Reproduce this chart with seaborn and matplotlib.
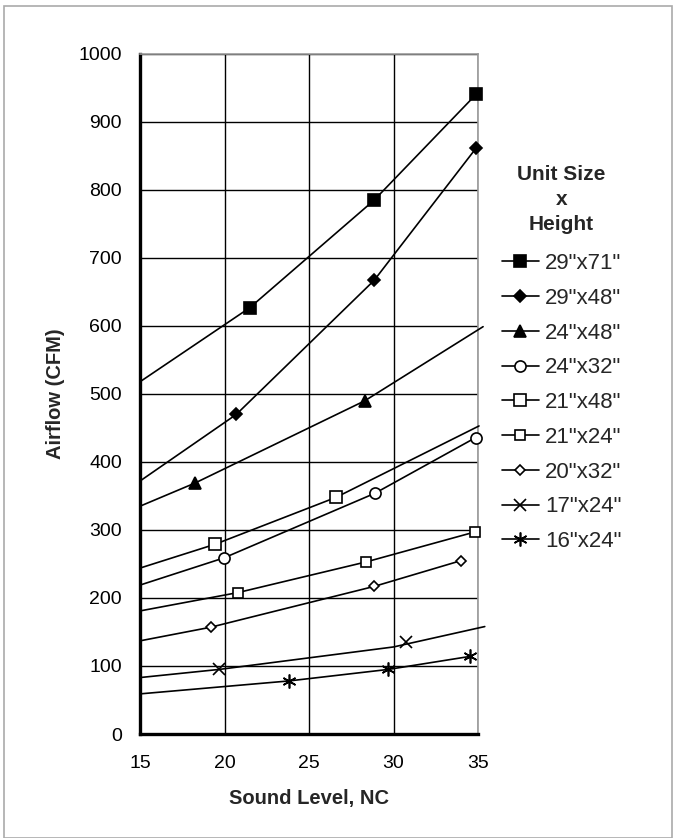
import matplotlib
matplotlib.use("Agg")
import matplotlib.pyplot as plt
from matplotlib.lines import Line2D
from matplotlib.patches import Rectangle
import seaborn as sns
import pandas as pd

# series names (unit size x height)
labels = ['29"x71"', '29"x48"', '24"x48"', '24"x32"', '21"x48"',
          '21"x24"', '20"x32"', '17"x24"', '16"x24"']

# measured points (sound level NC, airflow CFM)
pt_x = [
    [21.5, 28.85, 34.9],
    [20.7, 28.85, 34.9],
    [18.25, 28.3],
    [19.97, 28.9, 34.87],
    [19.44, 26.6],
    [20.8, 28.37, 34.8],
    [19.18, 28.85, 34.0],
    [19.7, 30.74],
    [23.8, 29.7, 34.5],
]
pt_y = [
    [627, 785, 941],
    [470, 667, 862],
    [369, 490],
    [259, 354, 436],
    [279, 348],
    [208, 253, 297],
    [157, 217, 255],
    [95, 136],
    [78, 95, 114],
]

# fitted curves
ln_x = [
    [15, 21.5, 28.85, 34.9],
    [15, 20.7, 28.85, 34.9],
    [15, 18.25, 28.3, 35.3],
    [15, 19.97, 28.9, 34.87],
    [15, 19.44, 26.6, 35.06],
    [15, 20.8, 28.37, 34.8],
    [15, 19.18, 28.85, 34.0],
    [15, 19.7, 30.0, 35.4],
    [15, 23.8, 29.7, 34.5],
]
ln_y = [
    [518, 627, 785, 941],
    [372, 470, 667, 862],
    [335, 369, 490, 599],
    [219, 259, 354, 436],
    [244, 279, 348, 453],
    [181, 208, 253, 297],
    [137, 157, 217, 255],
    [83, 95, 128, 158],
    [59, 78, 95, 114],
]

markers = ['s', 'D', '^', 'o', 's', 's', 'D', 'x', (6, 2, 0)]
msizes = [8, 6.5, 9, 8, 8, 7, 5.5, 9, 10]
filled = [True, True, True, False, False, False, False, True, True]

sns.set_style('white')
plt.rcParams['font.family'] = ['Liberation Sans', 'DejaVu Sans']

fig = plt.figure(figsize=(6.73, 8.38), dpi=100)
ax = fig.add_axes([140 / 673, 1 - 734 / 838, 338 / 673, 680 / 838])

handles = []
for i, lab in enumerate(labels):
    dl = pd.DataFrame({'x': ln_x[i], 'y': ln_y[i]})
    sns.lineplot(data=dl, x='x', y='y', ax=ax, color='black', lw=1.2,
                 sort=False, estimator=None, zorder=3)
    ax.lines[-1].set_clip_on(False)
    dp = pd.DataFrame({'x': pt_x[i], 'y': pt_y[i]})
    fc = 'black' if filled[i] else 'white'
    ax.plot(dp['x'], dp['y'], ls='none', marker=markers[i], ms=msizes[i],
            mfc=fc, mec='black', mew=1.2, zorder=4, clip_on=False)
    handles.append(Line2D([], [], color='black', lw=1.2, marker=markers[i],
                          ms=msizes[i], mfc=fc, mec='black', mew=1.2))

ax.set_xlim(15, 35)
ax.set_ylim(0, 1000)
ax.set_xticks([15, 20, 25, 30, 35])
ax.set_yticks(range(0, 1001, 100))
ax.grid(True, color='black', lw=1.0)
ax.set_axisbelow(True)

for s in ['top', 'right']:
    ax.spines[s].set_color('#999999')
    ax.spines[s].set_linewidth(1.2)
for s in ['left', 'bottom']:
    ax.spines[s].set_color('black')
    ax.spines[s].set_linewidth(2.4)
ax.tick_params(axis='both', direction='out', length=5, width=2.2,
               labelsize=14, colors='black')
ax.tick_params(axis='x', pad=10)
ax.tick_params(axis='y', pad=8)

ax.set_xlabel('Sound Level, NC', fontsize=14.5, fontweight='bold', labelpad=12)
ax.set_ylabel('Airflow (CFM)', fontsize=14.5, fontweight='bold', labelpad=10)

leg = fig.legend(handles=handles, labels=labels, loc='upper left',
                 bbox_to_anchor=(486 / 673, 1 - 149 / 838), frameon=False,
                 fontsize=16, handlelength=1.7, handletextpad=0.25,
                 labelspacing=0.62, borderpad=0.2,
                 title='Unit Size\nx\nHeight',
                 title_fontproperties={'weight': 'bold', 'size': 15})
leg.get_title().set_multialignment('center')
leg.get_title().set_linespacing(1.4)
leg._legend_box.sep = 14

# light frame around the whole picture
fig.patches.append(Rectangle((4 / 673, 0.0), 668 / 673, 1 - 6 / 838,
                             transform=fig.transFigure, fill=False,
                             edgecolor='#aaaaaa', lw=1.2))

fig.savefig('out.png', dpi=100)
